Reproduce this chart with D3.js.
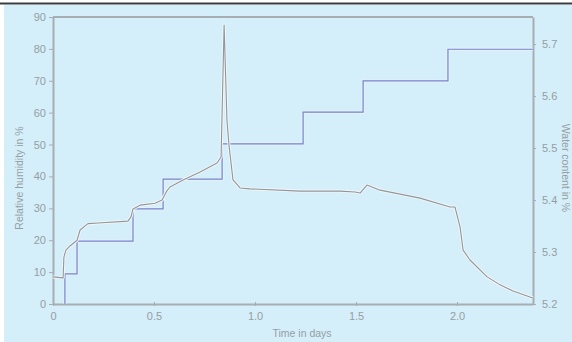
<!DOCTYPE html>
<html>
<head>
<meta charset="utf-8">
<script src="https://cdn.jsdelivr.net/npm/d3@7"></script>
<style>
  body { margin: 0; background: #fff; }
  svg { display: block; }
  .tick text { font-family: "Liberation Sans", Arial, sans-serif; font-size: 11px; fill: #969ea2; }
</style>
</head>
<body>
<script>
// relative humidity (left axis), time in days
const rhTime = [0, 0.05, 0.054, 0.064, 0.084, 0.119, 0.134, 0.173, 0.223, 0.371, 0.386, 0.396, 0.431, 0.505, 0.54, 0.564,
  0.579, 0.644, 0.728, 0.812, 0.832, 0.847, 0.861, 0.871, 0.891, 0.926, 0.975, 1.223, 1.421, 1.495, 1.52, 1.554,
  1.619, 1.817, 1.965, 1.99, 2.015, 2.03, 2.064, 2.149, 2.213, 2.277, 2.361, 2.376];
const rhValue = [8.5, 8.2, 14.7, 16.9, 18.2, 20.0, 23.2, 25.2, 25.4, 26.0, 27.3, 29.8, 31.0, 31.6, 32.6, 35.5,
  36.7, 38.9, 41.4, 44.2, 46.1, 87.5, 57.7, 49.9, 38.9, 36.4, 36.1, 35.4, 35.4, 35.1, 34.8, 37.3,
  35.7, 33.2, 30.4, 30.4, 24.1, 16.9, 13.8, 8.5, 6.0, 4.1, 2.2, 1.9];

// water content (right axis), stepped
const wcTime = [0.059, 0.059, 0.119, 0.396, 0.545, 0.837, 1.238, 1.535, 1.955, 2.376];
const wcValue = [5.2, 5.258, 5.321, 5.383, 5.44, 5.508, 5.569, 5.629, 5.69, 5.69];

const xTicks = [0, 0.5, 1.0, 1.5, 2.0];
const xTickLabels = ['0', '0.5', '1.0', '1.5', '2.0'];
const rhTicks = [0, 10, 20, 30, 40, 50, 60, 70, 80, 90];
const wcTicks = [5.2, 5.3, 5.4, 5.5, 5.6, 5.7];

const width = 572, height = 342;
const margin = { top: 17, right: 39, bottom: 38, left: 53 };

const svg = d3.select('body').append('svg')
  .attr('width', width)
  .attr('height', height);

// background + top rule
svg.append('rect').attr('x', 4).attr('y', 5).attr('width', width - 4).attr('height', height - 5).attr('fill', '#d4eefa');
svg.append('rect').attr('x', 0).attr('y', 2.5).attr('width', width).attr('height', 2).attr('fill', '#3a3d40');

const x = d3.scaleLinear().domain([0, 2.376]).range([margin.left, width - margin.right]);
const yL = d3.scaleLinear().domain([0, 90]).range([height - margin.bottom, margin.top]);
const yR = d3.scaleLinear().domain([5.2, 5.752]).range([height - margin.bottom, margin.top]);

const axisColor = '#a6aeb2';

// axes
const gx = svg.append('g')
  .attr('transform', `translate(0,${height - margin.bottom})`)
  .call(d3.axisBottom(x).tickValues(xTicks).tickFormat((d, i) => xTickLabels[i]).tickSize(4).tickSizeOuter(0).tickPadding(4));
const gl = svg.append('g')
  .attr('transform', `translate(${margin.left},0)`)
  .call(d3.axisLeft(yL).tickValues(rhTicks).tickSize(4).tickSizeOuter(0).tickPadding(3));
const gr = svg.append('g')
  .attr('transform', `translate(${width - margin.right},0)`)
  .call(d3.axisRight(yR).tickValues(wcTicks).tickFormat(d3.format('.1f')).tickSize(3).tickSizeOuter(0).tickPadding(6));

[gx, gl, gr].forEach(g => {
  g.select('.domain').attr('stroke', axisColor).attr('stroke-width', 2);
  g.selectAll('.tick line').attr('stroke', axisColor);
});
gx.selectAll('.tick line').attr('transform', 'translate(0,-2)');

// top frame line
svg.append('line')
  .attr('x1', margin.left).attr('x2', width - margin.right)
  .attr('y1', margin.top).attr('y2', margin.top)
  .attr('stroke', axisColor).attr('stroke-width', 2);

// lines
const rhLine = d3.line()
  .x((d, i) => x(rhTime[i]))
  .y(d => yL(d));
const wcLine = d3.line()
  .x((d, i) => x(wcTime[i]))
  .y(d => yR(d))
  .curve(d3.curveStepAfter);

svg.append('path').attr('d', wcLine(wcValue))
  .attr('fill', 'none').attr('stroke', '#e6f2fa').attr('stroke-width', 3);
svg.append('path').attr('d', wcLine(wcValue))
  .attr('fill', 'none').attr('stroke', '#7482cc').attr('stroke-width', 1.2);

svg.append('path').attr('d', rhLine(rhValue))
  .attr('fill', 'none').attr('stroke', '#f2f6f8').attr('stroke-width', 3)
  .attr('stroke-linejoin', 'round');
svg.append('path').attr('d', rhLine(rhValue))
  .attr('fill', 'none').attr('stroke', '#8e979b').attr('stroke-width', 1.1)
  .attr('stroke-linejoin', 'round');

// axis titles
const titleStyle = s => s
  .attr('font-family', '"Liberation Sans", Arial, sans-serif')
  .attr('font-size', 10.5)
  .attr('fill', '#969ea2')
  .attr('text-anchor', 'middle');

svg.append('text')
  .attr('transform', `translate(302,${height - 5})`)
  .call(titleStyle)
  .text('Time in days');

svg.append('text')
  .attr('transform', 'translate(23,178) rotate(-90)')
  .call(titleStyle)
  .text('Relative humidity in %');

svg.append('text')
  .attr('transform', 'translate(562,168) rotate(90)')
  .call(titleStyle)
  .text('Water content in %');
</script>
</body>
</html>
